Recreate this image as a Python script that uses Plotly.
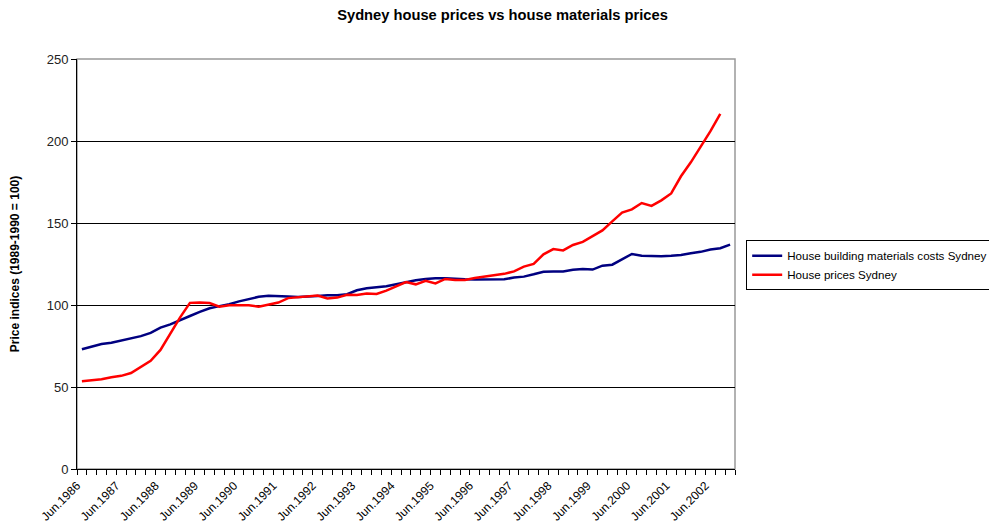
import plotly.graph_objects as go

# Quarterly categories Jun.1986 .. Dec.2002
months = ["Jun", "Sep", "Dec", "Mar"]
quarters = []
for k in range(67):
    m = months[k % 4]
    yr = 1986 + k // 4 + (1 if m == "Mar" else 0)
    quarters.append(f"{m}.{yr}")

tick_labels = ["Jun.1986", "Jun.1987", "Jun.1988", "Jun.1989", "Jun.1990", "Jun.1991",
               "Jun.1992", "Jun.1993", "Jun.1994", "Jun.1995", "Jun.1996", "Jun.1997",
               "Jun.1998", "Jun.1999", "Jun.2000", "Jun.2001", "Jun.2002"]

materials = [73.0, 74.8, 76.2, 77.0, 78.2, 79.5, 81.0, 83.0, 86.2, 88.2,
             91.0, 93.3, 95.8, 98.0, 99.3, 100.5, 102.2, 103.8, 105.0, 105.6,
             105.6, 105.2, 104.9, 105.0, 105.5, 105.9, 105.9, 106.6, 109.0, 110.2,
             110.7, 111.4, 112.6, 114.0, 115.1, 115.8, 116.3, 116.3, 115.8, 115.7,
             115.6, 115.5, 115.5, 115.7, 116.7, 117.3, 118.7, 120.3, 120.5, 120.5,
             121.5, 121.9, 121.6, 124.0, 124.6, 128.0, 131.1, 130.1, 129.7, 129.7,
             130.0, 130.5, 131.5, 132.4, 133.8, 134.6, 136.8]

house_prices = [53.5, 54.0, 54.7, 56.0, 56.8, 58.5, 62.0, 66.0, 72.6, 82.5,
                92.5, 101.3, 101.6, 101.2, 99.0, 99.8, 100.0, 99.8, 99.0, 100.3,
                101.5, 104.2, 104.7, 105.0, 105.8, 104.0, 104.5, 106.2, 106.1, 107.0,
                106.7, 108.8, 111.5, 114.0, 112.6, 114.8, 113.2, 115.9, 115.3, 115.3,
                116.5, 117.3, 118.0, 119.0, 120.5, 123.4, 125.0, 130.9, 134.1, 133.3,
                136.6, 138.5, 142.0, 145.5, 151.0, 156.3, 158.3, 162.2, 160.4, 163.8,
                168.0, 178.5, 187.0, 196.5, 206.0, 216.5]

FONT = "Liberation Sans, Arial, sans-serif"
idx_m = list(range(len(materials)))
idx_h = list(range(len(house_prices)))
tick_idx = [quarters.index(t) for t in tick_labels]

fig = go.Figure()
fig.add_trace(go.Scatter(x=idx_m, y=materials, mode="lines",
                         name="House building materials costs Sydney",
                         line=dict(color="#000080", width=2.5),
                         customdata=[quarters[i] for i in idx_m]))
fig.add_trace(go.Scatter(x=idx_h, y=house_prices, mode="lines",
                         name="House prices Sydney",
                         line=dict(color="#FF0000", width=2.5),
                         customdata=[quarters[i] for i in idx_h]))

# page body has an 8px margin, so the figure is placed at (8, 8)
fig.update_layout(
    width=989, height=523,
    margin=dict(l=69, r=262, t=51, b=62, autoexpand=False),
    paper_bgcolor="white", plot_bgcolor="white",
    font=dict(family=FONT, size=12, color="black"),
    title=dict(text="<b>Sydney house prices vs house materials prices</b>",
               x=0.5, xref="container", xanchor="center", y=0.987, yanchor="middle",
               font=dict(family=FONT, size=14.7, color="black")),
    showlegend=True,
    legend=dict(x=1.017, xanchor="left", y=0.558, yanchor="top",
                bordercolor="black", borderwidth=1, bgcolor="white",
                font=dict(family=FONT, size=11.6, color="black"),
                tracegroupgap=0, itemwidth=30),
    xaxis=dict(range=[-0.5, 66.5], tickmode="array", tickvals=tick_idx,
               ticktext=tick_labels, tickangle=-45, ticks="", showgrid=False,
               showline=True, linecolor="black", linewidth=1, zeroline=False,
               automargin=False, ticklabelstandoff=4, ticklabelshift=-5,
               tickfont=dict(family=FONT, size=12, color="black"),
               minor=dict(tick0=-0.5, dtick=1, ticks="outside", ticklen=5,
                          tickcolor="black", showgrid=False)),
    yaxis=dict(range=[0, 250], tickmode="linear", tick0=0, dtick=50,
               ticks="outside", ticklen=5, tickcolor="black",
               showgrid=True, gridcolor="black", gridwidth=1,
               showline=True, linecolor="black", linewidth=1, zeroline=False,
               automargin=False,
               tickfont=dict(family=FONT, size=13, color="#222222"),
               title=dict(text="<b>Price indices (1989-1990 = 100)</b>", standoff=24,
                          font=dict(family=FONT, size=12, color="black"))),
)

# gray plot-area frame (top and right edges)
fig.add_shape(type="rect", xref="paper", yref="paper", x0=0, x1=1, y0=0, y1=1,
              line=dict(color="#999999", width=1.5), layer="below")

fig.write_html("out.html")
